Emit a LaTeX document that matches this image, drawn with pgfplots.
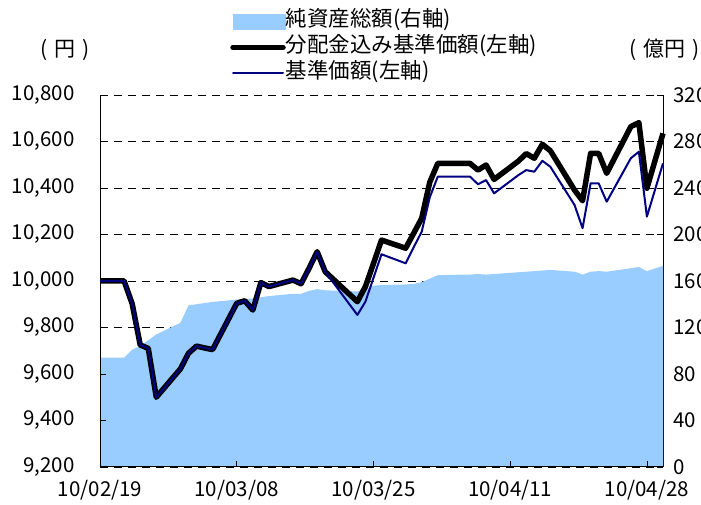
\documentclass[border=0pt]{standalone}
\usepackage{fontspec}
\setmainfont{Noto Sans CJK JP}
\usepackage{pgfplots}
\usepackage{pgfplotstable}
\pgfplotsset{compat=1.18}
\definecolor{areablue}{HTML}{99CCFF}
\definecolor{navyline}{HTML}{000080}

\pgfplotstableread{
d nav navd aum
0 10000 10000 94
3 10000 10000 94
4 9902 9902 101
5 9725 9725 104
6 9710 9710 109
7 9500 9500 114
10 9622 9622 124
11 9689 9689 139
12 9720 9720 140
13 9712 9712 141
14 9705 9705 142
17 9904 9904 144
18 9915 9915 144.5
19 9875 9875 145
20 9993 9993 146
21 9976 9976 147
24 10004 10004 149
25 9988 9988 149
26 10055 10055 151.5
27 10126 10126 153
28 10040 10040 152
32 9854 9911 151
33 9911 9976 153
34 10013 10075 156
35 10115 10176 156.5
38 10076 10141 157
39 10145 10205 157.5
40 10212 10270 159
41 10360 10425 162
42 10449 10506 165
45 10449 10506 165.5
46 10449 10506 165.5
47 10416 10477 166
48 10434 10499 165.5
49 10377 10437 166
52 10455 10515 167.5
53 10477 10548 168
54 10470 10528 168.5
55 10517 10588 169
56 10491 10560 169.5
59 10327 10391 168
60 10227 10345 165.5
61 10420 10549 168
62 10420 10549 168.5
63 10341 10463 168
66 10528 10664 171
67 10556 10681 172
68 10277 10399 168.5
70 10506 10635 173
}\fund

\begin{document}
\begin{tikzpicture}
\path[use as bounding box] (0pt,0pt) rectangle (701pt,505pt);
% right axis: net assets (area) + grid
\begin{axis}[
  at={(100pt,38pt)}, anchor=south west,
  scale only axis, width=563pt, height=372pt,
  xmin=0, xmax=70, ymin=0, ymax=320,
  hide x axis,
  axis y line*=right,
  ytick={0,40,...,320},
  ymajorgrids,
  grid style={black, line width=0.8pt, dash pattern=on 8pt off 6pt},
  tick align=inside, major tick length=6pt,
  tick style={black, line width=0.8pt},
  axis line style={black, line width=1pt},
  /pgf/number format/assume math mode=true,
  yticklabel style={font=\fontsize{20.5}{24}\selectfont, anchor=west, xshift=7pt},
]
\addplot[fill=areablue, draw=none] table[x=d, y=aum] {\fund} \closedcycle;
\end{axis}
% left axis: NAV lines
\begin{axis}[
  at={(100pt,38pt)}, anchor=south west,
  scale only axis, width=563pt, height=372pt,
  xmin=0, xmax=70, ymin=9200, ymax=10800,
  axis y line*=left, axis x line*=bottom,
  ytick={9200,9400,...,10800},
  scaled y ticks=false,
  xtick={0,17,34,51,68},
  xticklabels={10/02/19,10/03/08,10/03/25,10/04/11,10/04/28},
  tick align=inside, major tick length=6pt,
  tick style={black, line width=0.8pt},
  axis line style={black, line width=1pt},
  /pgf/number format/assume math mode=true,
  /pgf/number format/1000 sep={,},
  yticklabel style={font=\fontsize{20.5}{24}\selectfont, anchor=east, xshift=-22pt},
  xticklabel style={font=\fontsize{20.5}{24}\selectfont, yshift=-10pt},
  legend cell align=left,
  legend style={draw=none, fill=none, at={(0.231,1.228)}, anchor=north west,
    font=\fontsize{21.5}{24}\selectfont, row sep=4pt, inner sep=0pt,
    nodes={inner sep=0pt, text height=16pt, text depth=6pt}},
  legend image code/.code={\draw[#1, line cap=round] (0pt,0pt) -- (50pt,0pt);},
  clip=false,
]
\addlegendimage{legend image code/.code={\fill[areablue] (0pt,-7.5pt) rectangle (52pt,7.5pt);}}
\addlegendentry{純資産総額(右軸)}
\addplot[black, line width=5.5pt, line join=round] table[x=d, y=navd] {\fund};
\addlegendentry{分配金込み基準価額(左軸)}
\addplot[navyline, line width=2pt, line join=round] table[x=d, y=nav] {\fund};
\addlegendentry{基準価額(左軸)}
\node[font=\fontsize{21}{24}\selectfont] at (axis description cs:-0.062,1.121) {(\hspace{7pt}円\hspace{7pt})};
\node[font=\fontsize{21}{24}\selectfont] at (axis description cs:1.003,1.121) {(\hspace{7pt}億円\hspace{7pt})};
\end{axis}
\end{tikzpicture}
\end{document}
